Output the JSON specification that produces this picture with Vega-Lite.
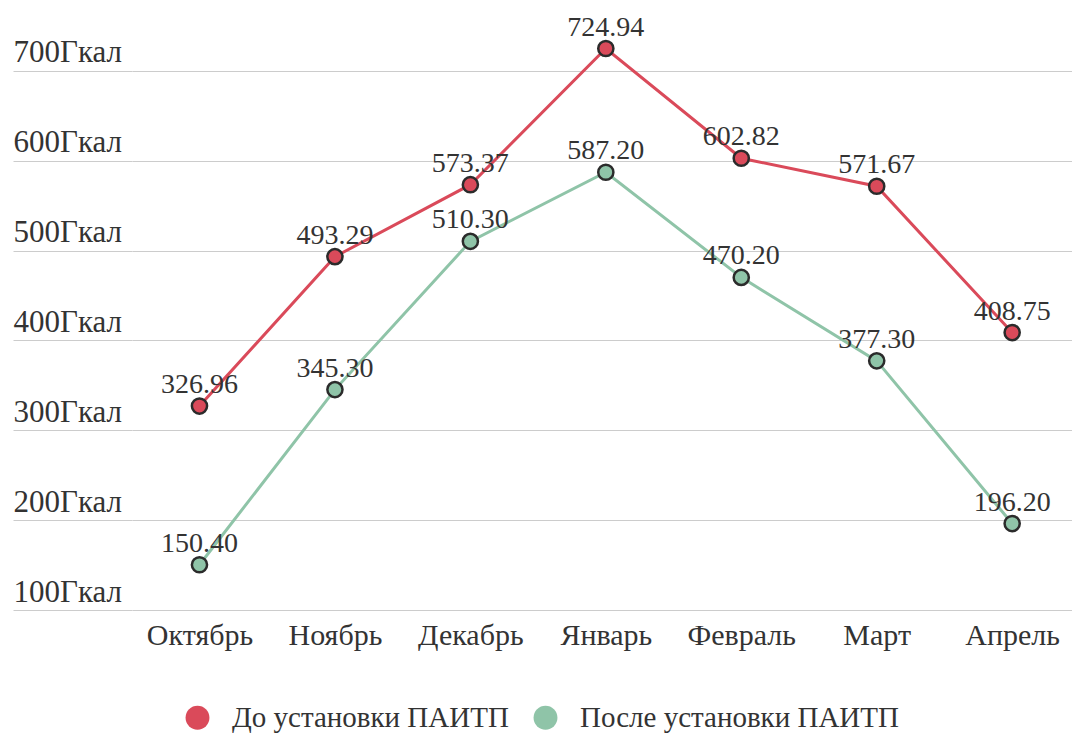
{
  "$schema": "https://vega.github.io/schema/vega-lite/v6.json",
  "width": 940,
  "height": 584,
  "autosize": {"type": "none"},
  "padding": {"left": 132, "top": 26, "right": 0, "bottom": 124},
  "background": "#ffffff",
  "config": {
    "font": "Liberation Serif",
    "view": {"stroke": null}
  },
  "data": {
    "values": [
      {"month": "Октябрь", "series": "До установки ПАИТП", "value": 326.96},
      {"month": "Ноябрь", "series": "До установки ПАИТП", "value": 493.29},
      {"month": "Декабрь", "series": "До установки ПАИТП", "value": 573.37},
      {"month": "Январь", "series": "До установки ПАИТП", "value": 724.94},
      {"month": "Февраль", "series": "До установки ПАИТП", "value": 602.82},
      {"month": "Март", "series": "До установки ПАИТП", "value": 571.67},
      {"month": "Апрель", "series": "До установки ПАИТП", "value": 408.75},
      {"month": "Октябрь", "series": "После установки ПАИТП", "value": 150.40},
      {"month": "Ноябрь", "series": "После установки ПАИТП", "value": 345.30},
      {"month": "Декабрь", "series": "После установки ПАИТП", "value": 510.30},
      {"month": "Январь", "series": "После установки ПАИТП", "value": 587.20},
      {"month": "Февраль", "series": "После установки ПАИТП", "value": 470.20},
      {"month": "Март", "series": "После установки ПАИТП", "value": 377.30},
      {"month": "Апрель", "series": "После установки ПАИТП", "value": 196.20}
    ]
  },
  "encoding": {
    "x": {
      "field": "month",
      "type": "nominal",
      "sort": null,
      "title": null,
      "scale": {"type": "point", "padding": 0.47, "align": 0.53},
      "axis": {
        "domain": false,
        "ticks": false,
        "grid": false,
        "labelAngle": 0,
        "labelFont": "Liberation Serif",
        "labelFontSize": 30,
        "labelColor": "#333333",
        "labelPadding": 10
      }
    },
    "y": {
      "field": "value",
      "type": "quantitative",
      "title": null,
      "scale": {"domain": [100, 750], "nice": false, "zero": false},
      "axis": {
        "values": [100, 200, 300, 400, 500, 600, 700],
        "labelExpr": "datum.value + 'Гкал'",
        "domain": false,
        "grid": true,
        "gridColor": "#cccccc",
        "gridWidth": 1,
        "ticks": true,
        "tickSize": 119,
        "tickColor": "#cccccc",
        "tickWidth": 1,
        "labelAlign": "left",
        "labelBaseline": "alphabetic",
        "labelPadding": 0,
        "labelOffset": -9,
        "labelFont": "Liberation Serif",
        "labelFontSize": 31,
        "labelColor": "#333333",
        "labelLimit": 0
      }
    },
    "color": {
      "field": "series",
      "type": "nominal",
      "sort": null,
      "title": null,
      "scale": {
        "domain": ["До установки ПАИТП", "После установки ПАИТП"],
        "range": ["#da4a5a", "#8fc4a8"]
      },
      "legend": {
        "orient": "none",
        "legendX": 51,
        "legendY": 677,
        "direction": "horizontal",
        "symbolType": "circle",
        "symbolSize": 570,
        "symbolStrokeWidth": 0,
        "symbolOpacity": 1,
        "labelFont": "Liberation Serif",
        "labelFontSize": 29,
        "labelColor": "#333333",
        "labelOffset": 20,
        "labelLimit": 0,
        "columnPadding": 22
      }
    }
  },
  "layer": [
    {
      "mark": {"type": "line", "strokeWidth": 3}
    },
    {
      "mark": {"type": "point", "filled": true, "size": 230, "stroke": "#2b2b2b", "strokeWidth": 2.5, "opacity": 1}
    },
    {
      "mark": {"type": "text", "dy": -13, "baseline": "alphabetic", "fontSize": 28, "font": "Liberation Serif", "color": "#333333"},
      "encoding": {
        "text": {"field": "value", "type": "quantitative", "format": ".2f"},
        "color": {"value": "#333333"}
      }
    }
  ]
}
